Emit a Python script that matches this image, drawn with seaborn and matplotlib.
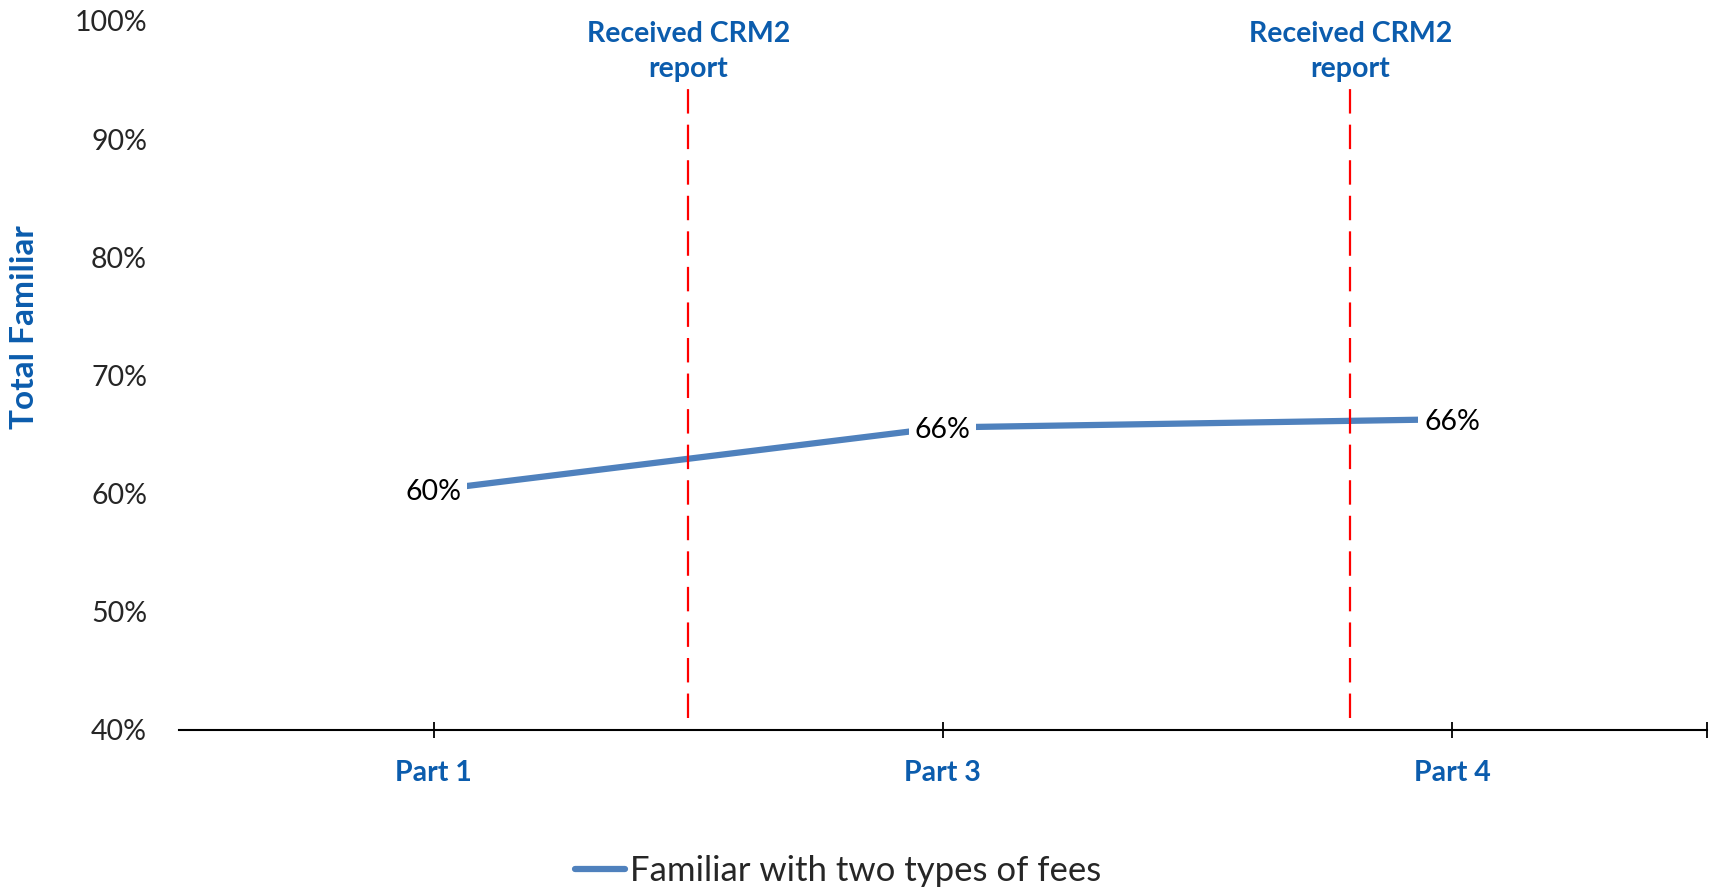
import numpy as np
import pandas as pd
import matplotlib.pyplot as plt
import seaborn as sns
from matplotlib.lines import Line2D

# --- data ---
parts = ["Part 1", "Part 3", "Part 4"]
familiar_two_fees = [0.603, 0.656, 0.663]
point_labels = ["60%", "66%", "66%"]
crm2_positions = [0.5, 1.8]
crm2_label = "Received CRM2\nreport"
series_name = "Familiar with two types of fees"

BLUE_TEXT = "#0B5CAD"
LINE_BLUE = "#4F81BD"

sns.set_theme(style="white")
plt.rcParams["font.family"] = ["Lato", "DejaVu Sans"]

df = pd.DataFrame({"part": parts, "value": familiar_two_fees})

fig = plt.figure(figsize=(17.1, 8.89), dpi=100)
ax = fig.add_axes([0.1047, 0.1789, 0.8933, 0.7975])

sns.lineplot(data=df, x="part", y="value", color=LINE_BLUE, linewidth=4.5,
             sort=False, ax=ax, legend=False)

# labels sit on the line with a white box that cuts it
for i, (v, lab) in enumerate(zip(familiar_two_fees, point_labels)):
    ax.text(i, v - 0.002, lab, ha="center", va="center", fontsize=20.5,
            color="black",
            bbox=dict(facecolor="white", edgecolor="none", pad=4), zorder=5)

# CRM2 report markers
for xpos in crm2_positions:
    ax.vlines(xpos, 0.41, 0.952, colors="#FF0000", linewidth=1.6,
              linestyles=(0, (11, 5)), zorder=3)
    ax.text(xpos, 0.974, crm2_label, ha="center", va="center", fontsize=20.5,
            fontweight="bold", color=BLUE_TEXT, linespacing=1.45)

ax.set_xlim(-0.5, 2.5)
ax.set_ylim(0.40, 1.00)
yticks = np.arange(0.4, 1.01, 0.1)
ax.set_yticks(yticks)
ax.set_yticklabels([f"{int(round(t * 100))}%" for t in yticks], fontsize=20.5)
ax.set_xticks([0, 1, 2, 2.5])
ax.set_xticklabels(parts + [""], fontsize=20.5, fontweight="bold",
                   color=BLUE_TEXT)

for s in ["top", "right", "left"]:
    ax.spines[s].set_visible(False)
ax.spines["bottom"].set_color("black")
ax.spines["bottom"].set_linewidth(1.5)
ax.tick_params(axis="x", direction="inout", length=11, width=1.3,
               color="black", pad=16, bottom=True)
ax.tick_params(axis="y", length=0, pad=23, left=False)
ax.grid(False)

ax.set_xlabel("")
ax.set_ylabel("Total Familiar", fontsize=24, fontweight="bold", color=BLUE_TEXT)
ax.yaxis.set_label_coords(-0.092, 0.568)

handle = Line2D([], [], color=LINE_BLUE, linewidth=4.5, solid_capstyle="round")
fig.legend([handle], [series_name], loc="center", bbox_to_anchor=(0.49, 0.02),
           frameon=False, fontsize=25, handlelength=1.45, handletextpad=0.12)

fig.savefig("out.png", dpi=100)
